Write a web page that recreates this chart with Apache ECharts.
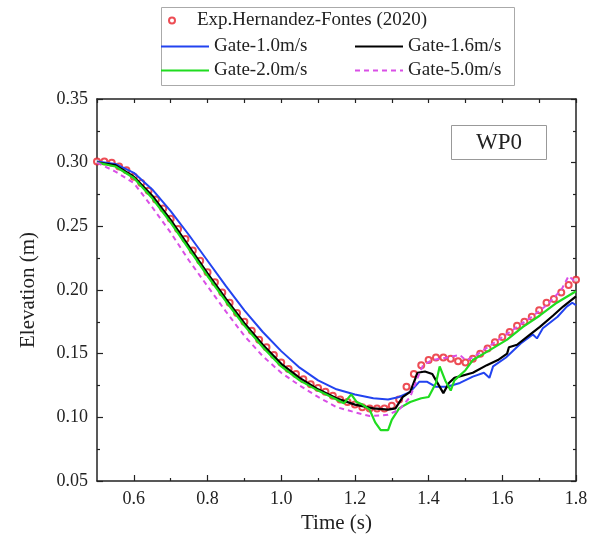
<!doctype html>
<html lang="en">
<head>
    <meta charset="UTF-8">
    <title>WP0 elevation</title>
    <script src="https://cdn.jsdelivr.net/npm/echarts@6/dist/echarts.min.js"></script>
    <style>
        html, body { margin: 0; padding: 0; background: #fff; }
        #chart { width: 594px; height: 544px; }
    </style>
</head>
<body>
<div id="chart"></div>
<script>
    // experiment (red circles)
    var expTime = [0.50, 0.52, 0.54, 0.56, 0.58, 0.60, 0.62, 0.64, 0.66, 0.68, 0.70, 0.72, 0.74, 0.76, 0.78,
        0.80, 0.82, 0.84, 0.86, 0.88, 0.90, 0.92, 0.94, 0.96, 0.98, 1.00, 1.02, 1.04, 1.06, 1.08,
        1.10, 1.12, 1.14, 1.16, 1.18, 1.20, 1.22, 1.24, 1.26, 1.28, 1.30, 1.32, 1.34, 1.36, 1.38,
        1.40, 1.42, 1.44, 1.46, 1.48, 1.50, 1.52, 1.54, 1.56, 1.58, 1.60, 1.62, 1.64, 1.66, 1.68,
        1.70, 1.72, 1.74, 1.76, 1.78, 1.80];
    var expElev = [0.301, 0.301, 0.300, 0.297, 0.294, 0.289, 0.284, 0.278, 0.271, 0.264, 0.256, 0.248, 0.240, 0.231, 0.223,
        0.214, 0.206, 0.198, 0.190, 0.182, 0.175, 0.168, 0.161, 0.155, 0.149, 0.143, 0.138, 0.134, 0.130, 0.126,
        0.123, 0.120, 0.117, 0.114, 0.112, 0.110, 0.108, 0.107, 0.107, 0.107, 0.109, 0.114, 0.124, 0.134, 0.141,
        0.145, 0.147, 0.147, 0.146, 0.144, 0.143, 0.146, 0.150, 0.154, 0.159, 0.163, 0.167, 0.172, 0.175, 0.179,
        0.184, 0.190, 0.193, 0.198, 0.204, 0.208];

    // Gate-1.0m/s (blue)
    var g10Time = [0.50, 0.55, 0.60, 0.65, 0.70, 0.75, 0.80, 0.85, 0.90, 0.95, 1.00, 1.05, 1.10, 1.15, 1.20, 1.25,
        1.29, 1.32, 1.35, 1.375, 1.395, 1.42, 1.45, 1.485, 1.52, 1.55, 1.565, 1.575, 1.61, 1.65, 1.683, 1.694,
        1.71, 1.75, 1.775, 1.79, 1.80];
    var g10Elev = [0.301, 0.299, 0.292, 0.279, 0.262, 0.243, 0.223, 0.203, 0.184, 0.167, 0.152, 0.139, 0.129, 0.122, 0.118, 0.115,
        0.114, 0.116, 0.120, 0.128, 0.128, 0.124, 0.124, 0.127, 0.132, 0.135, 0.131, 0.140, 0.147, 0.158, 0.165, 0.162,
        0.170, 0.179, 0.187, 0.190, 0.188];

    // Gate-1.6m/s (black)
    var g16Time = [0.50, 0.55, 0.60, 0.65, 0.70, 0.75, 0.80, 0.85, 0.90, 0.95, 1.00, 1.05, 1.10, 1.15, 1.20, 1.25,
        1.29, 1.31, 1.33, 1.35, 1.37, 1.39, 1.41, 1.42, 1.44, 1.455, 1.47, 1.52, 1.558, 1.588, 1.613, 1.618,
        1.64, 1.675, 1.702, 1.738, 1.765, 1.80];
    var g16Elev = [0.300, 0.298, 0.289, 0.274, 0.255, 0.234, 0.213, 0.193, 0.174, 0.157, 0.142, 0.131, 0.122, 0.115, 0.110, 0.107,
        0.106, 0.107, 0.116, 0.120, 0.135, 0.136, 0.134, 0.129, 0.119, 0.127, 0.131, 0.135, 0.141, 0.145, 0.150, 0.155,
        0.157, 0.165, 0.171, 0.180, 0.187, 0.195];

    // Gate-2.0m/s (green)
    var g20Time = [0.50, 0.55, 0.60, 0.65, 0.70, 0.75, 0.80, 0.85, 0.90, 0.95, 1.00, 1.05, 1.10, 1.15, 1.17, 1.19,
        1.205, 1.22, 1.24, 1.255, 1.27, 1.29, 1.30, 1.32, 1.35, 1.38, 1.40, 1.42, 1.43, 1.445, 1.46, 1.47,
        1.50, 1.52, 1.567, 1.613, 1.656, 1.702, 1.748, 1.80];
    var g20Elev = [0.300, 0.297, 0.288, 0.272, 0.253, 0.232, 0.211, 0.191, 0.172, 0.155, 0.140, 0.129, 0.121, 0.114, 0.111, 0.118,
        0.112, 0.110, 0.106, 0.096, 0.090, 0.090, 0.098, 0.107, 0.112, 0.115, 0.116, 0.127, 0.140, 0.129, 0.121, 0.129,
        0.137, 0.145, 0.153, 0.161, 0.171, 0.180, 0.190, 0.199];

    // Gate-5.0m/s (magenta dashed)
    var g50Time = [0.50, 0.55, 0.60, 0.65, 0.70, 0.75, 0.80, 0.85, 0.90, 0.95, 1.00, 1.05, 1.10, 1.15, 1.20, 1.24,
        1.29, 1.32, 1.35, 1.37, 1.385, 1.41, 1.45, 1.485, 1.50, 1.52, 1.575, 1.63, 1.68, 1.72, 1.76, 1.78, 1.80];
    var g50Elev = [0.300, 0.293, 0.284, 0.265, 0.245, 0.223, 0.203, 0.183, 0.164, 0.148, 0.135, 0.125, 0.116, 0.108, 0.104, 0.101,
        0.102, 0.106, 0.116, 0.131, 0.141, 0.145, 0.147, 0.149, 0.145, 0.147, 0.158, 0.169, 0.179, 0.188, 0.200, 0.211, 0.206];

    var xMajor = [0.6, 0.8, 1.0, 1.2, 1.4, 1.6, 1.8];
    var xMinor = [0.7, 0.9, 1.1, 1.3, 1.5, 1.7];

    function pairs(t, v) {
        return t.map(function (x, i) { return [x, v[i]]; });
    }

    var font = 'Liberation Serif';
    var ink = '#222';
    var chart = echarts.init(document.getElementById('chart'), null, {renderer: 'canvas'});

    // one legend per item so each can sit where it does in the figure
    function legendAt(name, left, top, w, h, lineOnly) {
        var lg = {
            data: [name], left: left, top: top, padding: 0,
            itemWidth: w, itemHeight: h, itemGap: 0,
            textStyle: {fontFamily: font, fontSize: 19, color: ink}
        };
        if (lineOnly) lg.itemStyle = {opacity: 0};   // hide the dot line series put in the icon
        return lg;
    }

    var option = {
        backgroundColor: '#fff',
        animation: false,
        title: {
            text: 'WP0', left: 451, top: 125,
            padding: [6, 25], borderColor: '#999', borderWidth: 1,
            textStyle: {fontFamily: font, fontSize: 23, fontWeight: 'normal', color: ink}
        },
        legend: [
            legendAt('Exp.Hernandez-Fontes (2020)', 168, 11, 40, 6),
            legendAt('Gate-1.0m/s', 160, 37, 48, 14, true),
            legendAt('Gate-1.6m/s', 354, 37, 48, 14, true),
            legendAt('Gate-2.0m/s', 160, 61, 48, 14, true),
            legendAt('Gate-5.0m/s', 354, 61, 48, 14, true)
        ],
        graphic: [{
            type: 'rect', left: 159, top: 5, silent: true,
            shape: {width: 353, height: 78},
            style: {fill: 'none', stroke: '#aaa', lineWidth: 1}
        }],
        grid: {left: 97, right: 18, top: 99, bottom: 63},
        xAxis: [{
            type: 'value', position: 'bottom', min: 0.5, max: 1.8,
            name: 'Time (s)', nameLocation: 'middle', nameGap: 30,
            nameTextStyle: {fontFamily: font, fontSize: 21, color: ink},
            axisLine: {lineStyle: {color: ink, width: 1.5}},
            axisTick: {inside: true, length: 6, customValues: xMajor, lineStyle: {color: ink, width: 1.2}},
            axisLabel: {customValues: xMajor, margin: 9, fontFamily: font, fontSize: 18, color: ink,
                formatter: function (v) { return v.toFixed(1); }},
            splitLine: {show: false}
        }, {
            type: 'value', position: 'bottom', min: 0.5, max: 1.8,
            axisLine: {show: false},
            axisTick: {inside: true, length: 3, customValues: xMinor, lineStyle: {color: ink, width: 1.2}},
            axisLabel: {show: false},
            splitLine: {show: false}
        }, {
            type: 'value', position: 'top', min: 0.5, max: 1.8, interval: 0.1,
            axisLine: {lineStyle: {color: ink, width: 1.5}},
            axisTick: {inside: true, length: 4, lineStyle: {color: ink, width: 1.2}},
            axisLabel: {show: false},
            splitLine: {show: false}
        }],
        yAxis: [{
            type: 'value', position: 'left', min: 0.05, max: 0.35, interval: 0.05,
            name: 'Elevation (m)', nameLocation: 'middle', nameGap: 58, nameRotate: 90,
            nameTextStyle: {fontFamily: font, fontSize: 21, color: ink},
            axisLine: {lineStyle: {color: ink, width: 1.5}},
            axisTick: {inside: true, length: 6, lineStyle: {color: ink, width: 1.2}},
            minorTick: {show: true, splitNumber: 2, length: 3, lineStyle: {color: ink, width: 1.2}},
            axisLabel: {margin: 9, fontFamily: font, fontSize: 18, color: ink,
                formatter: function (v) { return v.toFixed(2); }},
            splitLine: {show: false}
        }, {
            type: 'value', position: 'right', min: 0.05, max: 0.35, interval: 0.05,
            axisLine: {lineStyle: {color: ink, width: 1.5}},
            axisTick: {inside: true, length: 5, lineStyle: {color: ink, width: 1.2}},
            minorTick: {show: true, splitNumber: 2, length: 3, lineStyle: {color: ink, width: 1.2}},
            axisLabel: {show: false},
            splitLine: {show: false}
        }],
        series: [{
            name: 'Gate-1.0m/s', type: 'line', symbol: 'none',
            lineStyle: {color: '#2243f0', width: 2}, itemStyle: {color: '#2243f0'},
            data: pairs(g10Time, g10Elev)
        }, {
            name: 'Gate-1.6m/s', type: 'line', symbol: 'none',
            lineStyle: {color: '#000', width: 2.2}, itemStyle: {color: '#000'},
            data: pairs(g16Time, g16Elev)
        }, {
            name: 'Gate-2.0m/s', type: 'line', symbol: 'none',
            lineStyle: {color: '#1fdc1f', width: 2.2}, itemStyle: {color: '#1fdc1f'},
            data: pairs(g20Time, g20Elev)
        }, {
            name: 'Gate-5.0m/s', type: 'line', symbol: 'none',
            lineStyle: {color: '#d94fe6', width: 2, type: [5, 4]}, itemStyle: {color: '#d94fe6'},
            data: pairs(g50Time, g50Elev)
        }, {
            name: 'Exp.Hernandez-Fontes (2020)', type: 'scatter', symbol: 'emptyCircle', symbolSize: 6,
            itemStyle: {color: '#e8202a', borderColor: '#e8202a', borderWidth: 1.5},
            data: pairs(expTime, expElev)
        }]
    };

    chart.setOption(option);
</script>
</body>
</html>
